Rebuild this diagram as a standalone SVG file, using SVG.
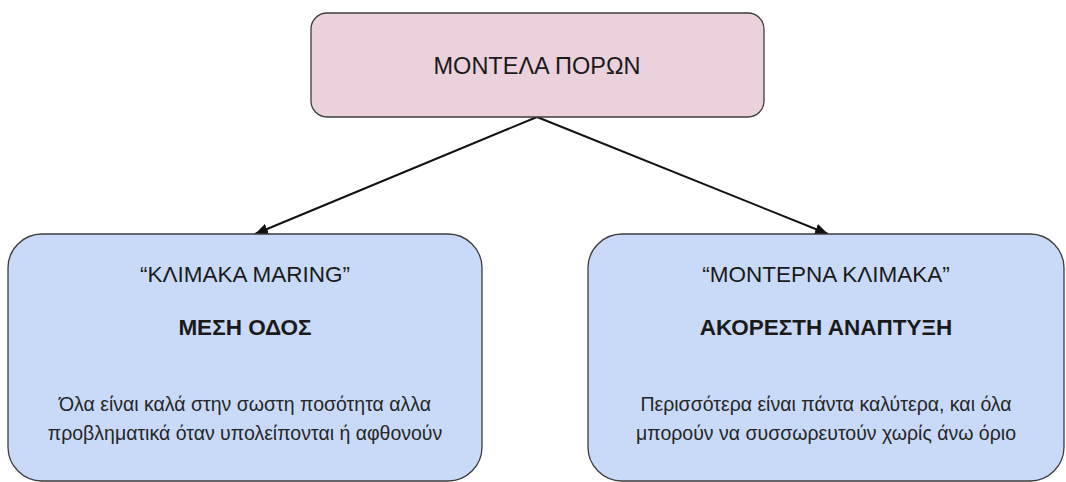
<svg xmlns="http://www.w3.org/2000/svg" width="1066" height="482" viewBox="0 0 1066 482">
<style>
.box{stroke:#3c3c3c;stroke-width:1.3}
.pink{fill:#ead1dc}
.blue{fill:#c9daf8}
text{font-family:"Liberation Sans",Arial,sans-serif;fill:#1a1a1a;text-anchor:middle}
.t{font-size:23.5px}
.h{font-size:22.5px}
.b{font-size:22.5px;font-weight:bold}
.p{font-size:19.5px;fill:#262626}
.edge{stroke:#111;stroke-width:2;fill:none}
</style>
<defs>
<marker id="ah" viewBox="0 0 13 11" refX="13" refY="5.5" markerWidth="13" markerHeight="11" markerUnits="userSpaceOnUse" orient="auto">
<path d="M0,0 L13,5.5 L0,11 z" fill="#111"/>
</marker>
</defs>
<rect width="1066" height="482" fill="#fff"/>
<g id="connectors">
<line class="edge" x1="537" y1="117" x2="255" y2="234" marker-end="url(#ah)"/>
<line class="edge" x1="537" y1="117" x2="828" y2="234" marker-end="url(#ah)"/>
</g>
<g id="root">
<rect class="box pink" x="311" y="13" width="453" height="104" rx="16"/>
<text class="t" x="537" y="74">ΜΟΝΤΕΛΑ ΠΟΡΩΝ</text>
</g>
<g id="maring">
<rect class="box blue" x="8" y="234" width="474" height="247" rx="34"/>
<text class="h" x="245" y="282">“ΚΛΙΜΑΚΑ MARING”</text>
<text class="b" x="245" y="335">ΜΕΣΗ ΟΔΟΣ</text>
<text class="p" x="245" y="411">Όλα είναι καλά στην σωστη ποσότητα αλλα</text>
<text class="p" x="245" y="440">προβληματικά όταν υπολείπονται ή αφθονούν</text>
</g>
<g id="modern">
<rect class="box blue" x="588" y="234" width="476" height="247" rx="34"/>
<text class="h" x="826" y="282">“ΜΟΝΤΕΡΝΑ ΚΛΙΜΑΚΑ”</text>
<text class="b" x="826" y="335">ΑΚΟΡΕΣΤΗ ΑΝΑΠΤΥΞΗ</text>
<text class="p" x="826" y="411">Περισσότερα είναι πάντα καλύτερα, και όλα</text>
<text class="p" x="826" y="440">μπορούν να συσσωρευτούν χωρίς άνω όριο</text>
</g>
</svg>
